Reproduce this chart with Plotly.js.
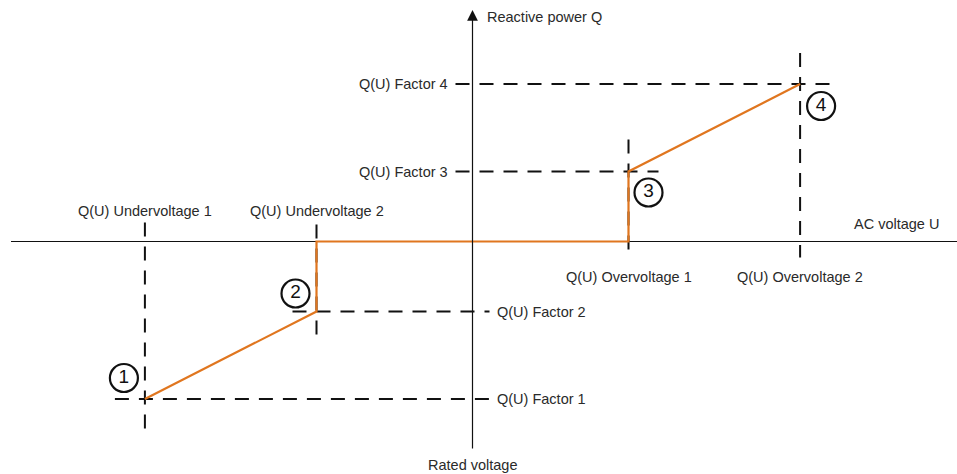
<!DOCTYPE html>
<html>
<head>
<meta charset="utf-8">
<script src="https://cdn.plot.ly/plotly-3.0.1.min.js"></script>
<style>
html, body { margin: 0; padding: 0; background: #fff; }
#chart { width: 957px; height: 474px; }
</style>
</head>
<body>
<div id="chart"></div>
<script>
// Q(U) characteristic, values
var RATED = 100;                       // rated voltage (% Un)
var voltages = [79, 90, 110, 121];     // UV1, UV2, OV1, OV2
var voltageLabels = ['Q(U) Undervoltage 1', 'Q(U) Undervoltage 2',
                     'Q(U) Overvoltage 1', 'Q(U) Overvoltage 2'];
var factors = [-0.45, -0.2, 0.2, 0.45]; // factor 1..4
var factorLabels = ['Q(U) Factor 1', 'Q(U) Factor 2', 'Q(U) Factor 3', 'Q(U) Factor 4'];
var pointLabels = ['1', '2', '3', '4'];

// scale of the drawing (pixels per unit) and where the axes cross
var W = 957, H = 474;
var PX_U = 15.6, PX_Q = 350;
var AX_X = 472.5, AX_Y = 241.5;
function du(px) { return px / PX_U; }
function dq(px) { return px / PX_Q; }

var xRange = [RATED - du(AX_X), RATED + du(W - AX_X)];
var yRange = [-dq(H - AX_Y), dq(AX_Y)];

var ORANGE = '#e0761f';
var INK = '#2a2a2a';
var FONT = 'Liberation Sans, Arial, sans-serif';

// characteristic curve
var curveU = [voltages[0], voltages[1], voltages[1], voltages[2], voltages[2], voltages[3]];
var curveQ = [factors[0], factors[1], 0, 0, factors[2], factors[3]];

var shapes = [];
function dashed(x0, y0, x1, y1) {
  shapes.push({type: 'line', xref: 'x', yref: 'y', x0: x0, y0: y0, x1: x1, y1: y1,
    layer: 'below', line: {color: '#111', width: 2, dash: '14px,10px'}});
}

// vertical guides at each voltage (pixel overshoot above / below)
var vUp = [19, 17, 32, 31], vDown = [30, 28, 16, 16];
for (var i = 0; i < 4; i++) {
  var hi = Math.max(0, factors[i]), lo = Math.min(0, factors[i]);
  dashed(voltages[i], hi + dq(vUp[i]), voltages[i], lo - dq(vDown[i]));
}
// horizontal guides at each factor, running to (and just past) the Q axis
var hOut = [30, 24, 30, 34];
for (var j = 0; j < 4; j++) {
  if (j < 2) dashed(voltages[j] - du(hOut[j]), factors[j], RATED + du(17), factors[j]);
  else dashed(RATED - du(17), factors[j], voltages[j] + du(hOut[j]), factors[j]);
}

// horizontal voltage axis
shapes.push({
  type: 'line', xref: 'x', yref: 'y', layer: 'below',
  x0: xRange[0] + du(11), x1: xRange[1], y0: 0, y1: 0,
  line: {color: '#111', width: 1.2}
});

var traces = [];
traces.push({
  x: curveU, y: curveQ, mode: 'lines',
  line: {color: ORANGE, width: 2.2}, hoverinfo: 'skip'
});

// numbered circles beside the corner points
var offU = [-21, -21, 20, 21], offQ = [21, 18, -21, -22];
traces.push({
  x: voltages.map(function (v, k) { return v + du(offU[k]); }),
  y: factors.map(function (f, k) { return f + dq(offQ[k]); }),
  mode: 'markers+text', text: pointLabels, textposition: 'middle center',
  textfont: {family: FONT, size: 19, color: '#111'},
  marker: {symbol: 'circle-open', size: 28, color: '#111', line: {width: 2.2, color: '#111'}},
  hoverinfo: 'skip'
});

var annotations = [];
var lblFont = {family: FONT, size: 14.5, color: INK};
voltageLabels.forEach(function (t, k) {
  annotations.push({
    x: voltages[k], y: k < 2 ? dq(30.5) : -dq(35.5), text: t,
    showarrow: false, xanchor: 'center', yanchor: 'middle', font: lblFont
  });
});
factorLabels.forEach(function (t, k) {
  annotations.push({
    x: k < 2 ? RATED + du(22) : RATED - du(23), y: factors[k], text: t,
    showarrow: false, xanchor: k < 2 ? 'left' : 'right', yanchor: 'middle', font: lblFont
  });
});
annotations.push({x: xRange[1] - du(16), y: dq(17.5), text: 'AC voltage U',
  showarrow: false, xanchor: 'right', yanchor: 'middle', font: lblFont});
annotations.push({x: RATED + du(12), y: dq(224.5), text: 'Reactive power Q',
  showarrow: false, xanchor: 'left', yanchor: 'middle', font: lblFont});
annotations.push({x: RATED, y: -dq(223.5), text: 'Rated voltage',
  showarrow: false, xanchor: 'center', yanchor: 'middle', font: lblFont});
// vertical axis with arrow
annotations.push({x: RATED, y: dq(231.5), ax: RATED, ay: -dq(208.5),
  axref: 'x', ayref: 'y', xref: 'x', yref: 'y', text: '', showarrow: true,
  arrowhead: 2, arrowsize: 1.8, arrowwidth: 1.2, arrowcolor: '#111', standoff: 0});

var layout = {
  width: W, height: H, autosize: false,
  margin: {l: 0, r: 0, t: 0, b: 0},
  paper_bgcolor: '#fff', plot_bgcolor: '#fff',
  showlegend: false,
  xaxis: {range: xRange, visible: false, fixedrange: true},
  yaxis: {range: yRange, visible: false, fixedrange: true},
  annotations: annotations,
  shapes: shapes
};

Plotly.newPlot('chart', traces, layout, {displayModeBar: false, staticPlot: true});
</script>
</body>
</html>
